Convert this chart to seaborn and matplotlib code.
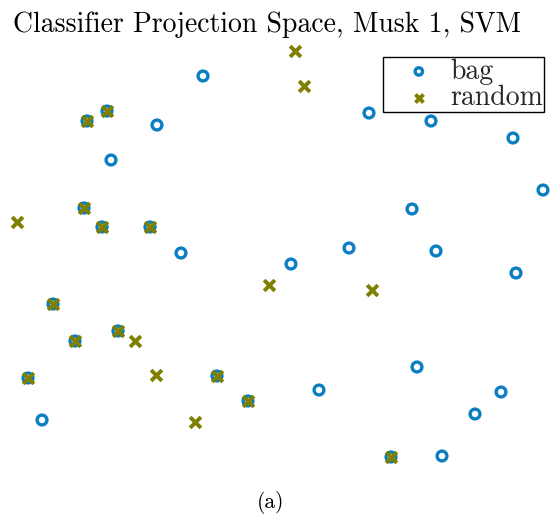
import matplotlib
matplotlib.use("Agg")
import matplotlib.pyplot as plt
import seaborn as sns
import pandas as pd

# Data (image-pixel coordinates; y grows downward)
bag_x = [203, 87, 107, 157, 111, 369, 431, 513, 543, 84, 102, 150, 181, 412, 349, 291,
         436, 516, 53, 75, 118, 28, 217, 248, 42, 319, 417, 501, 475, 391, 442]
bag_y = [76, 121, 111, 125, 160, 113, 121, 138, 190, 208, 227, 227, 253, 209, 248, 264,
         251, 273, 304, 341, 331, 378, 376, 401, 420, 390, 367, 392, 414, 457, 456]
rand_x = [295, 304, 87, 107, 17, 84, 102, 150, 269, 372, 53, 75, 118, 135, 156, 28, 217, 248, 195, 391]
rand_y = [51, 86, 121, 111, 222, 208, 227, 227, 285, 290, 304, 341, 331, 341, 375, 378, 376, 401, 422, 457]

title = "Classifier Projection Space, Musk 1, SVM"
caption = "(a)"
labels = ["bag", "random"]

BLUE = "#0a7ec2"
OLIVE = "#7f7f00"

sns.set_theme(style="white")
plt.rcParams["font.family"] = ["cmr10", "DejaVu Serif"]
plt.rcParams["axes.formatter.use_mathtext"] = True

fig = plt.figure(figsize=(5.51, 5.14), dpi=100)
ax = fig.add_axes([0, 0, 1, 1])

bag = pd.DataFrame({"x": bag_x, "y": bag_y})
rnd = pd.DataFrame({"x": rand_x, "y": rand_y})

sns.scatterplot(data=bag, x="x", y="y", ax=ax, marker="o", s=50,
                facecolors="none", edgecolor=BLUE, linewidth=2.4, label=labels[0], zorder=3)
sns.scatterplot(data=rnd, x="x", y="y", ax=ax, marker="x", s=60,
                color=OLIVE, linewidth=2.8, label=labels[1], zorder=4)

ax.set_xlim(0, 551)
ax.set_ylim(514, 0)
ax.set_axis_off()
ax.set_xlabel("")
ax.set_ylabel("")

fig.text(0.484, 0.978, title, ha="center", va="top", fontsize=20, color="black")
fig.text(0.492, 1 - 503/514, caption, ha="center", va="center",
         fontsize=15.5, color="black")

leg = ax.legend(loc="upper left", bbox_to_anchor=(383/551, 1 - 57/514), frameon=True,
                fancybox=False, framealpha=1, edgecolor="black", fontsize=20,
                borderpad=0.05, labelspacing=0.0, handletextpad=-0.12, handlelength=2.48,
                borderaxespad=0, markerscale=0.75)
leg.get_frame().set_linewidth(1.0)

fig.savefig("out.png", dpi=100)
